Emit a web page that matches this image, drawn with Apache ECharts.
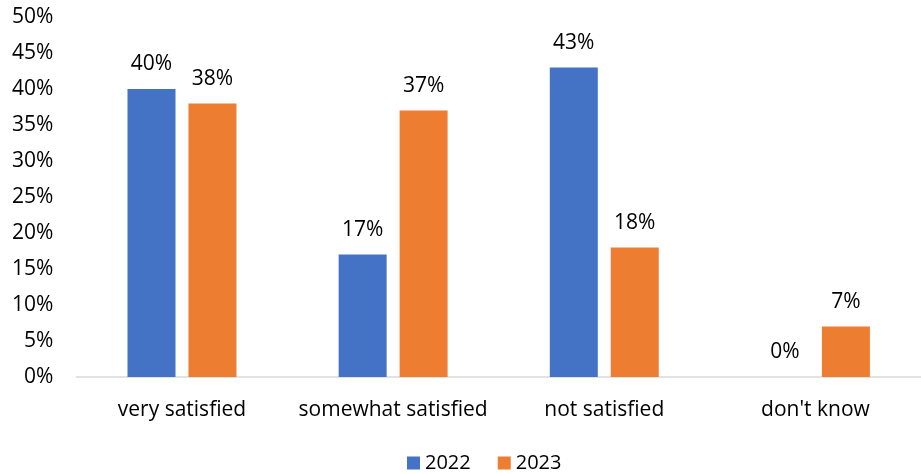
<!DOCTYPE html>
<html><head><meta charset="utf-8">
<script src="https://cdn.jsdelivr.net/npm/echarts@6/dist/echarts.min.js"></script>
<style>html,body{margin:0;padding:0;background:#fff}#c{width:921px;height:474px}</style>
</head><body><div id="c"></div>
<script>
var categories = ['very satisfied', 'somewhat satisfied', 'not satisfied', "don't know"];
var values2022 = [40, 17, 43, 0];
var values2023 = [38, 37, 18, 7];
var yTicks = [0, 5, 10, 15, 20, 25, 30, 35, 40, 45, 50];
var seriesNames = ['2022', '2023'];

var font = 'Open Sans';
var fs = 21;
var chart = echarts.init(document.getElementById('c'), null, {renderer: 'canvas'});
function lbl() {
  return {show: true, position: 'top', distance: 14, formatter: '{c}%', fontFamily: font, fontSize: fs, color: '#000'};
}
chart.setOption({
  animation: false,
  textStyle: {fontFamily: font},
  grid: {left: 76.4, top: 17, width: 857, height: 360, containLabel: false},
  legend: {
    data: seriesNames, top: 448, left: 402, icon: 'rect', itemWidth: 13, itemHeight: 13, itemGap: 27,
    textStyle: {fontFamily: font, fontSize: 20, color: '#000'}
  },
  xAxis: {
    type: 'category', data: categories,
    axisLine: {lineStyle: {color: '#D9D9D9', width: 1.5}},
    axisTick: {show: false},
    axisLabel: {fontFamily: font, fontSize: fs, color: '#000', margin: 23, interval: 0}
  },
  yAxis: {
    type: 'value', min: yTicks[0], max: yTicks[yTicks.length - 1], interval: 5,
    splitLine: {show: false}, axisLine: {show: false}, axisTick: {show: false},
    axisLabel: {fontFamily: font, fontSize: fs, color: '#000', margin: 23, formatter: '{value}%'}
  },
  series: [
    {name: seriesNames[0], type: 'bar', data: values2022, barWidth: 48, barGap: '27%', itemStyle: {color: '#4472C4'}, label: lbl()},
    {name: seriesNames[1], type: 'bar', data: values2023, barWidth: 48, itemStyle: {color: '#ED7D31'}, label: lbl()}
  ]
});
</script></body></html>
